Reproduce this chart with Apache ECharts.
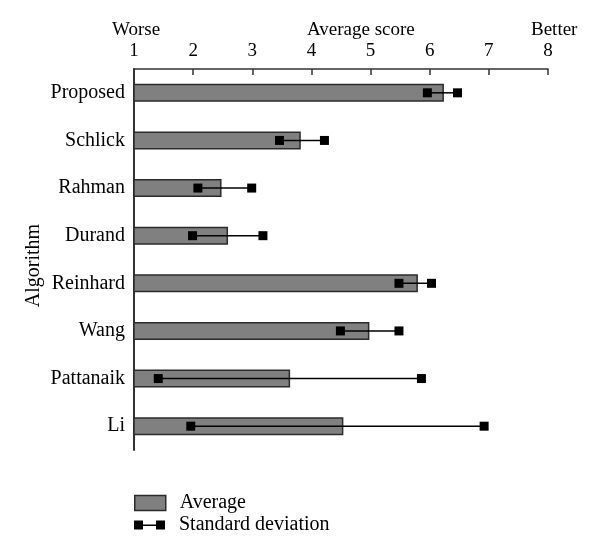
<!DOCTYPE html>
<html>
<head>
<meta charset="utf-8">
<script src="https://cdn.jsdelivr.net/npm/echarts@6/dist/echarts.min.js"></script>
<style>html,body{margin:0;padding:0;background:#fff}#c{width:600px;height:554px}</style>
</head>
<body>
<div id="c"></div>
<script>
var categories = ['Proposed', 'Schlick', 'Rahman', 'Durand', 'Reinhard', 'Wang', 'Pattanaik', 'Li'];
var averages = [6.24, 3.82, 2.48, 2.59, 5.80, 4.98, 3.64, 4.54];
var sdLow = [5.96, 3.46, 2.08, 1.99, 5.48, 4.49, 1.41, 1.96];
var sdHigh = [6.47, 4.22, 2.99, 3.18, 6.03, 5.48, 5.86, 6.92];
var xTicks = [1, 2, 3, 4, 5, 6, 7, 8];

var FONT = 'Liberation Serif';
var errData = categories.map(function (c, i) { return [i, sdLow[i], sdHigh[i]]; });

var chart = echarts.init(document.getElementById('c'));
chart.setOption({
  animation: false,
  backgroundColor: '#fff',
  textStyle: { fontFamily: FONT, color: '#000' },
  title: [
    { text: 'Worse', left: 112, top: 21, textStyle: { fontFamily: FONT, fontSize: 19, fontWeight: 'normal', color: '#000' }, padding: 0 },
    { text: 'Average score', left: 307, top: 21, textStyle: { fontFamily: FONT, fontSize: 19, fontWeight: 'normal', color: '#000' }, padding: 0 },
    { text: 'Better', left: 531, top: 21, textStyle: { fontFamily: FONT, fontSize: 19, fontWeight: 'normal', color: '#000' }, padding: 0 }
  ],
  grid: { left: 134, right: 52, top: 69, bottom: 104, containLabel: false },
  legend: [
    {
      data: [{ name: 'Average', icon: 'rect' }], left: 134, top: 493, orient: 'vertical',
      itemWidth: 31, itemHeight: 15, padding: 0,
      itemStyle: { color: '#808080', borderColor: '#2b2b2b', borderWidth: 1.5 },
      textStyle: { fontFamily: FONT, fontSize: 20, color: '#000', padding: [0, 0, 0, 9] }
    },
    {
      data: [{ name: 'Standard deviation', icon: 'path://M0,0h9v9h-9zM9,4h13v1.4h-13zM22,0h9v9h-9z' }],
      left: 134, top: 515, orient: 'vertical',
      itemWidth: 31, itemHeight: 9, padding: 0, itemStyle: { color: '#000' },
      textStyle: { fontFamily: FONT, fontSize: 20, color: '#000', padding: [0, 0, 0, 9] }
    }
  ],
  xAxis: {
    type: 'value', position: 'top', min: 1, max: 8, interval: 1,
    splitLine: { show: false },
    axisLine: { show: true, lineStyle: { color: '#333', width: 1.5 } },
    axisTick: { show: true, inside: true, length: 6, lineStyle: { color: '#333', width: 1.5 } },
    axisLabel: { fontFamily: FONT, fontSize: 19, color: '#000', margin: 8,
      formatter: function (v) { return xTicks.indexOf(v) >= 0 ? String(v) : ''; } }
  },
  yAxis: {
    type: 'category', data: categories, inverse: true,
    name: 'Algorithm', nameLocation: 'middle', nameRotate: 90, nameGap: 90,
    nameMoveOverlap: false,
    nameTextStyle: { fontFamily: FONT, fontSize: 20, color: '#000', padding: [0, 12, 0, 0] },
    axisLine: { show: true, lineStyle: { color: '#333', width: 2 } },
    axisTick: { show: false },
    axisLabel: { fontFamily: FONT, fontSize: 20, color: '#000', margin: 9 }
  },
  series: [
    {
      name: 'Average', type: 'bar', data: averages, barWidth: 18, z: 2,
      itemStyle: { color: '#808080', borderColor: '#2b2b2b', borderWidth: 1.5 }
    },
    {
      name: 'Standard deviation', type: 'custom', data: errData, z: 5,
      encode: { x: [1, 2], y: 0 },
      itemStyle: { color: '#000' },
      renderItem: function (params, api) {
        var a = api.coord([api.value(1), api.value(0)]);
        var b = api.coord([api.value(2), api.value(0)]);
        var s = 9;
        return {
          type: 'group',
          children: [
            { type: 'line', shape: { x1: a[0], y1: a[1], x2: b[0], y2: b[1] }, style: { stroke: '#000', lineWidth: 1.5 } },
            { type: 'rect', shape: { x: a[0] - s / 2, y: a[1] - s / 2, width: s, height: s }, style: { fill: '#000' } },
            { type: 'rect', shape: { x: b[0] - s / 2, y: b[1] - s / 2, width: s, height: s }, style: { fill: '#000' } }
          ]
        };
      }
    }
  ]
});
</script>
</body>
</html>
